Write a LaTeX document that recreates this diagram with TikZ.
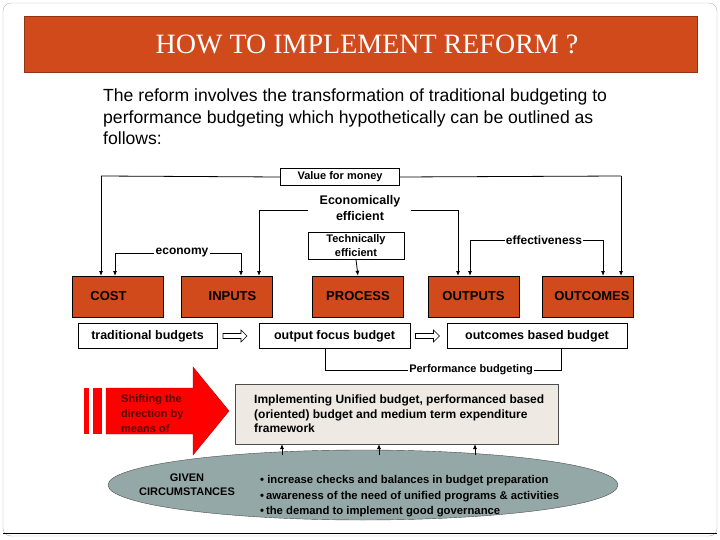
\documentclass[tikz,border=0pt]{standalone}
\usepackage{fontspec}
\setmainfont{Liberation Sans}
\newfontfamily\titlefont{Liberation Serif}
\usetikzlibrary{shapes.geometric,arrows.meta}
\definecolor{rust}{HTML}{D04A1C}
\definecolor{boxgray}{HTML}{EEEAE3}
\definecolor{ellgray}{HTML}{95A8A8}
\definecolor{darkred}{HTML}{5A0803}
\tikzset{
  stage/.style={draw=black, fill=rust, minimum width=91pt, minimum height=41pt, font=\bfseries\fontsize{13}{15}\selectfont, inner sep=0pt},
  wbox/.style={draw=black, fill=white, minimum height=25pt, font=\bfseries\fontsize{12.5}{14}\selectfont, inner sep=0pt},
  lbl/.style={font=\bfseries\fontsize{12}{14}\selectfont, inner sep=1pt, align=center},
  conn/.style={draw=black, line width=0.8pt, -{Latex[length=5pt,width=4pt]}},
  plain/.style={draw=black, line width=0.8pt},
  hollowarrow/.pic={\draw[black, fill=white, line width=0.6pt] (-12,-2.5) -- (6,-2.5) -- (6,-6) -- (12,0) -- (6,6) -- (6,2.5) -- (-12,2.5) -- cycle;}
}
\begin{document}
\begin{tikzpicture}[x=1pt,y=-1pt]
\useasboundingbox (0,0) rectangle (720,540);
\draw[gray!60, rounded corners=8pt] (3,3) rectangle (717,536);
\draw[black, line width=1pt] (3,533) -- (717,533);
\node[fill=rust, draw=rust!70!black, minimum width=673pt, minimum height=56pt, anchor=north west] (title) at (24,16) {};
\node[text=white, font=\titlefont\fontsize{28}{30}\selectfont] (tt) at (367,44) {HOW TO IMPLEMENT REFORM ?};
\node[anchor=north west, align=left, font=\fontsize{17.6}{21.5}\selectfont, inner sep=0pt] (para) at (103,89) {The reform involves the transformation of traditional budgeting to\\performance budgeting which hypothetically can be outlined as\\follows:};
% stages
\node[stage] (cost) at (117.5,296.5) {\hspace{-18pt}COST};
\node[stage] (inputs) at (226.5,296.5) {\hspace{12pt}INPUTS};
\node[stage] (process) at (358,296.5) {PROCESS};
\node[stage] (outputs) at (473.5,296.5) {OUTPUTS};
\node[stage] (outcomes) at (588,296.5) {\hspace{8pt}OUTCOMES};
% labels
\node[draw, fill=white, minimum width=119pt, minimum height=17pt, lbl, font=\bfseries\fontsize{11}{13}\selectfont] (vfm) at (340,177) {Value for money};
\node[lbl, font=\bfseries\fontsize{12.5}{16.5}\selectfont] (econ) at (360,208) {Economically\\efficient};
\node[draw, fill=white, minimum width=96pt, minimum height=27pt, lbl, font=\bfseries\fontsize{11}{14}\selectfont] (tech) at (356,246) {Technically\\efficient};
\node[lbl] (economy) at (182,253) {economy};
\node[lbl] (effect) at (544,240) {effectiveness};
% connectors
\coordinate (c1) at (101,176); \coordinate (c2) at (621,176);
\draw[plain] (vfm.west) -- (c1); \draw[conn] (c1) -- (101,276);
\draw[plain] (vfm.east) -- (c2); \draw[conn] (c2) -- (621,276);
\coordinate (e1) at (259,210); \coordinate (e2) at (458,210);
\draw[plain] (308,210) -- (e1); \draw[conn] (e1) -- (259,276);
\draw[plain] (411,210) -- (e2); \draw[conn] (e2) -- (458,276);
\draw[conn] (tech.south) -- (process.north);
\coordinate (y1) at (115,253); \coordinate (y2) at (241,253);
\draw[plain] (economy.west) -- (y1); \draw[conn] (y1) -- (115,276);
\draw[plain] (economy.east) -- (y2); \draw[conn] (y2) -- (241,276);
\coordinate (f1) at (470,240); \coordinate (f2) at (603,240);
\draw[plain] (effect.west) -- (f1); \draw[conn] (f1) -- (470,276);
\draw[plain] (effect.east) -- (f2); \draw[conn] (f2) -- (603,276);
% budgets
\node[wbox, minimum width=139pt] (trad) at (147.5,336) {traditional budgets};
\node[wbox, minimum width=151pt] (ofb) at (334.5,336) {output focus budget};
\node[wbox, minimum width=180pt] (obb) at (537,336) {outcomes based budget};
\pic at (235,336) {hollowarrow};
\pic at (427.5,336) {hollowarrow};
\node[lbl, font=\bfseries\fontsize{11}{13}\selectfont] (perf) at (471,370) {Performance budgeting};
\coordinate (p1) at (325,370); \coordinate (p2) at (561,370);
\draw[plain] (325,348.5) -- (p1) -- (perf.west);
\draw[plain] (561,348.5) -- (p2) -- (perf.east);
% red arrow
\fill[red] (84,388) rectangle (89,434);
\fill[red] (93,388) rectangle (102,434);
\path[fill=red, draw=red!70!black] (106,388) -- (193,388) -- (193,367) -- (229,411) -- (193,455) -- (193,434) -- (106,434) -- cycle;
\begin{scope}
\clip (106,388) rectangle (193,434);
\node[anchor=north west, align=left, text=darkred, font=\bfseries\fontsize{11}{15}\selectfont, inner sep=0pt] (shift) at (121,394) {Shifting the\\direction by\\means of};
\end{scope}
% gray box
\node[draw=black!70, fill=boxgray, minimum width=323pt, minimum height=60pt, anchor=north west] (impl) at (235,384) {};
\node[anchor=north west, align=left, font=\bfseries\fontsize{12}{14.5}\selectfont, inner sep=0pt] (impltxt) at (254,395) {Implementing Unified budget, performanced based\\(oriented) budget and medium term expenditure\\framework};
% ellipse
\node[ellipse, draw=black!70, fill=ellgray, minimum width=510pt, minimum height=70pt, inner sep=0pt] (ell) at (363,485) {};
\node[lbl, font=\bfseries\fontsize{11}{14}\selectfont] (given) at (187,485) {GIVEN\\CIRCUMSTANCES};
\node[anchor=west, font=\bfseries\fontsize{11.3}{12}\selectfont, inner sep=0pt] (b1) at (260,481) {\textbullet\ increase checks and balances in budget preparation};
\node[anchor=west, font=\bfseries\fontsize{11.3}{12}\selectfont, inner sep=0pt] (b2) at (260,497) {\textbullet\,awareness of the need of unified programs \& activities};
\node[anchor=west, font=\bfseries\fontsize{11.3}{12}\selectfont, inner sep=0pt] (b3) at (260,512) {\textbullet\,the demand to implement good governance};
\foreach \x in {282,379,475} \draw[conn] (\x,455) -- (\x,444);
\end{tikzpicture}
\end{document}
